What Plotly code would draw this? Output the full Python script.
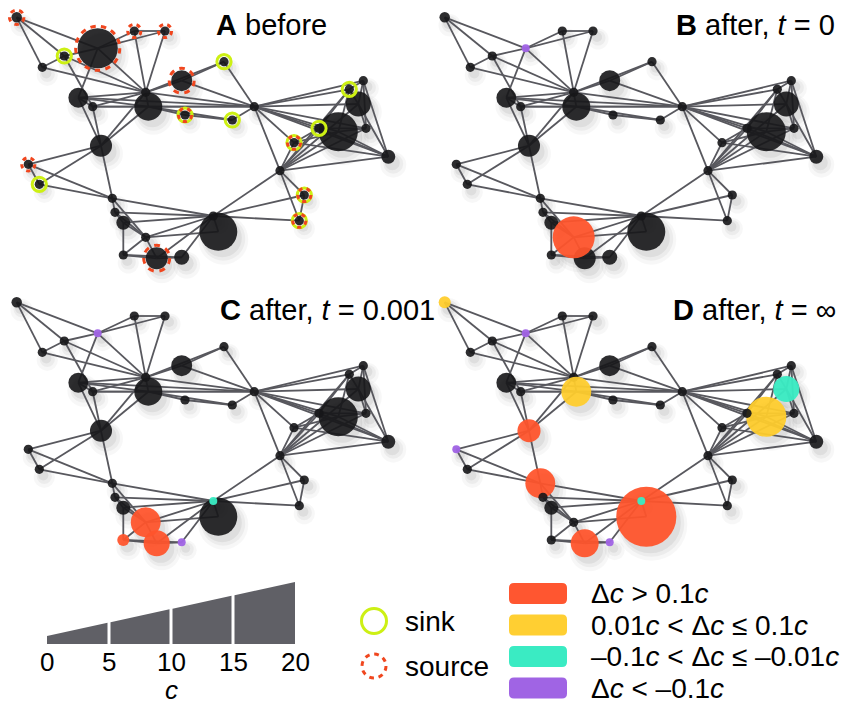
import plotly.graph_objects as go

# ---------------- data ----------------
# network layout (panel-local pixel coordinates)
node_x = [16.7, 97.7, 134.3, 165.0, 64.3, 42.3, 181.7, 224.0, 145.7, 78.3,
          92.7, 148.3, 185.0, 232.3, 254.3, 363.3, 349.3, 358.3, 338.3, 319.0,
          366.0, 294.0, 388.3, 101.0, 28.3, 39.3, 280.0, 304.3, 299.3, 112.3,
          115.0, 123.3, 213.3, 218.3, 145.7, 123.3, 156.7, 181.7]
node_y = [17.3, 48.3, 31.0, 31.0, 56.0, 67.3, 80.7, 61.7, 92.3, 97.7,
          106.7, 106.7, 115.0, 120.0, 106.7, 80.7, 89.3, 104.0, 131.7, 128.3,
          128.3, 142.7, 156.7, 145.7, 164.3, 184.3, 170.7, 195.0, 220.7, 198.3,
          212.3, 222.7, 216.0, 231.7, 237.3, 255.0, 258.3, 257.3]

edges = [(1, 2), (1, 5), (1, 6), (6, 5), (5, 2), (6, 9), (5, 9), (5, 11), (2, 3), (2, 4),
         (3, 4), (3, 9), (4, 9), (2, 9), (2, 10), (10, 11), (10, 12), (10, 15), (10, 24),
         (10, 9), (11, 12), (11, 15), (11, 24), (11, 9), (9, 7), (9, 12), (9, 24), (9, 15),
         (12, 13), (12, 14), (12, 15), (12, 24), (9, 8), (7, 8), (7, 15), (8, 15), (13, 14),
         (14, 15), (15, 16), (15, 17), (15, 18), (15, 19), (15, 20), (15, 21), (15, 23),
         (15, 22), (15, 27), (16, 17), (16, 18), (16, 21), (16, 23), (17, 19), (17, 20),
         (17, 18), (18, 21), (18, 23), (19, 21), (19, 23), (20, 21), (20, 23), (22, 19),
         (22, 20), (22, 23), (27, 17), (27, 18), (27, 19), (27, 20), (27, 21), (27, 23),
         (27, 22), (24, 25), (24, 26), (24, 30), (25, 26), (25, 30), (26, 30), (30, 31),
         (30, 33), (30, 35), (31, 32), (31, 35), (31, 33), (32, 36), (32, 35), (32, 33),
         (35, 36), (35, 37), (35, 33), (35, 34), (36, 37), (36, 38), (37, 38), (37, 33),
         (38, 33), (33, 34), (33, 27), (33, 28), (33, 29), (27, 28), (27, 29), (28, 29)]

# concentration c of every node
c_before = [0.9, 11.9, 0.45, 0.45, 0.45, 0.45, 4.8, 0.45, 0.45, 4.4,
            0.45, 7.4, 0.45, 0.45, 0.45, 0.45, 0.45, 6.3, 11.5, 0.45,
            0.45, 0.45, 2.2, 5.2, 0.45, 0.45, 0.45, 0.45, 0.45, 0.45,
            0.45, 2.2, 0.45, 11.1, 0.45, 0.45, 5.2, 2.6]
c_t0 = list(c_before)
c_t0[1] = 0.0
c_t0[34] = 12.6
c_t001 = list(c_t0)
c_t001[34] = 8.1
c_t001[36] = 6.7
c_t001[35] = 1.5
c_t001[37] = 0.0
c_t001[32] = 0.0
c_inf = list(c_t0)
c_inf[0] = 1.5
c_inf[11] = 8.1
c_inf[17] = 6.7
c_inf[18] = 11.9
c_inf[23] = 5.6
c_inf[24] = 0.0
c_inf[29] = 8.1
c_inf[33] = 19.3
c_inf[34] = 0.45
c_inf[36] = 7.4
c_inf[37] = 0.0
c_inf[32] = 0.0

# change class: k none, r >0.1c, y 0.01..0.1, t -0.1..-0.01, p < -0.1
cls_before = ["k"] * 38
cls_t0 = ["k"] * 38
cls_t0[1] = "p"
cls_t0[34] = "r"
cls_t001 = list(cls_t0)
cls_t001[36] = "r"
cls_t001[35] = "r"
cls_t001[37] = "p"
cls_t001[32] = "t"
cls_inf = ["k"] * 38
for i, k in [(1, "y"), (2, "p"), (12, "y"), (18, "t"), (19, "y"), (24, "r"), (25, "p"),
             (30, "r"), (33, "t"), (34, "r"), (37, "r"), (38, "p")]:
    cls_inf[i - 1] = k

sinks = [5, 8, 13, 14, 17, 20, 22, 26, 28, 29]
sources = [1, 2, 3, 4, 7, 13, 22, 25, 28, 29, 37]

# stacking order of the nodes (last is on top)
draw_order = [i for i in range(38) if i not in (32, 34)]
draw_order.insert(draw_order.index(36) + 1, 34)
draw_order.append(32)

panel_titles = ["<b>A</b> before", "<b>B</b> after, <i>t</i> = 0",
                "<b>C</b> after, <i>t</i> = 0.001", "<b>D</b> after, <i>t</i> = ∞"]

scale_ticks = [0, 5, 10, 15, 20]
legend_labels = ["Δ<i>c</i> &gt; 0.1<i>c</i>",
                 "0.01<i>c</i> &lt; Δ<i>c</i> ≤ 0.1<i>c</i>",
                 "–0.1<i>c</i> &lt; Δ<i>c</i> ≤ –0.01<i>c</i>",
                 "Δ<i>c</i> &lt; –0.1<i>c</i>"]

# ---------------- styles ----------------
FONT = "Liberation Sans, Arial, Helvetica, sans-serif"
FS = 29
COL = {"k": "rgba(22,22,24,0.9)", "r": "rgba(255,84,44,0.94)", "y": "rgba(255,205,45,0.94)",
       "t": "rgba(58,235,195,0.96)", "p": "rgba(160,100,228,0.96)"}
LEG_COL = ["rgb(255,86,48)", "rgb(255,207,50)", "rgb(58,235,195)", "rgb(160,100,228)"]
EDGE_COL = "rgb(88,88,94)"
SINK_COL = "rgb(205,240,20)"
SRC_COL = "rgb(240,70,30)"

panels = [((0, 0), c_before, cls_before, 329, 25),
          ((428, 0), c_t0, cls_t0, 837, 25),
          ((0, 285), c_t001, cls_t001, 437, 310),
          ((428, 285), c_inf, cls_inf, 838, 310)]


def diam(c):
    return 8 + 2.7 * c


fig = go.Figure()
shapes = []
annotations = []

for pi, ((ox, oy), cvals, cls, tx, ty) in enumerate(panels):
    X = [x + ox for x in node_x]
    Y = [y + oy for y in node_y]
    D = [diam(c) for c in cvals]
    # soft shadows
    for extra, op, dx, dy in [(12, 0.03, 5, 8), (6, 0.045, 5, 7), (1, 0.06, 4, 6)]:
        fig.add_trace(go.Scatter(x=[x + dx for x in X], y=[y + dy for y in Y], mode="markers",
                                 marker=dict(size=[d + extra for d in D], color=f"rgba(0,0,0,{op})",
                                             opacity=1, line=dict(width=0)),
                                 hoverinfo="skip", showlegend=False))
    ex, ey = [], []
    for a, b in edges:
        ex += [X[a - 1], X[b - 1], None]
        ey += [Y[a - 1], Y[b - 1], None]
    fig.add_trace(go.Scatter(x=ex, y=ey, mode="lines", line=dict(color=EDGE_COL, width=1.8),
                             hoverinfo="skip", showlegend=False))
    fig.add_trace(go.Scatter(x=[X[i] for i in draw_order], y=[Y[i] for i in draw_order],
                             mode="markers",
                             marker=dict(size=[D[i] for i in draw_order],
                                         color=[COL[cls[i]] for i in draw_order], opacity=1,
                                         line=dict(width=0)),
                             hoverinfo="skip", showlegend=False))
    if pi == 0:
        sx = [X[i - 1] for i in sinks]
        sy = [Y[i - 1] for i in sinks]
        fig.add_trace(go.Scatter(x=sx, y=sy, mode="markers",
                                 marker=dict(size=[D[i - 1] + 5 for i in sinks],
                                             color="rgba(0,0,0,0)", opacity=1,
                                             line=dict(color=SINK_COL, width=3)),
                                 hoverinfo="skip", showlegend=False))
        for i in sources:
            r = D[i - 1] / 2 + 2
            circ = 2 * 3.14159 * r
            n = max(5, round(circ / 11))
            seg = circ / (2 * n)
            shapes.append(dict(type="circle", xref="x", yref="y",
                               x0=X[i - 1] - r, x1=X[i - 1] + r, y0=Y[i - 1] - r, y1=Y[i - 1] + r,
                               line=dict(color=SRC_COL, width=3, dash=f"{seg:.2f}px,{seg:.2f}px")))
    annotations.append(dict(x=tx, y=ty, xref="x", yref="y", text=panel_titles[pi],
                            showarrow=False, xanchor="right", yanchor="middle",
                            font=dict(family=FONT, size=FS, color="black")))

# ---------------- size legend wedge ----------------
def wx(c):
    return 47 + 12.4 * c


base_y = 644
for k in range(len(scale_ticks) - 1):
    c0, c1 = scale_ticks[k], scale_ticks[k + 1]
    x0 = wx(c0) + (1.5 if k > 0 else 0)
    x1 = wx(c1) - (1.5 if k < len(scale_ticks) - 2 else 0)
    h0 = diam(c0 + (x0 - wx(c0)) / 12.4)
    h1 = diam(c1 - (wx(c1) - x1) / 12.4)
    fig.add_trace(go.Scatter(x=[x0, x1, x1, x0, x0], y=[base_y, base_y, base_y - h1, base_y - h0, base_y],
                             mode="lines", fill="toself", fillcolor="rgb(96,96,102)",
                             line=dict(width=0, color="rgb(96,96,102)"),
                             hoverinfo="skip", showlegend=False))
for c in scale_ticks:
    annotations.append(dict(x=wx(c), y=662, xref="x", yref="y", text=str(c), showarrow=False,
                            xanchor="center", yanchor="middle",
                            font=dict(family=FONT, size=26, color="black")))
annotations.append(dict(x=wx(10), y=690, xref="x", yref="y", text="<i>c</i>", showarrow=False,
                        xanchor="center", yanchor="middle",
                        font=dict(family=FONT, size=26, color="black")))

# sink / source legend
fig.add_trace(go.Scatter(x=[374], y=[621], mode="markers",
                         marker=dict(size=25, color="rgba(0,0,0,0)", opacity=1,
                                     line=dict(color=SINK_COL, width=3)),
                         hoverinfo="skip", showlegend=False))
shapes.append(dict(type="circle", xref="x", yref="y", x0=362, x1=386, y0=654, y1=678,
                   line=dict(color=SRC_COL, width=3, dash="4.7px,4.7px")))
annotations.append(dict(x=403, y=621, xref="x", yref="y", text="sink", showarrow=False,
                        xanchor="left", yanchor="middle", font=dict(family=FONT, size=28, color="black")))
annotations.append(dict(x=403, y=666, xref="x", yref="y", text="source", showarrow=False,
                        xanchor="left", yanchor="middle", font=dict(family=FONT, size=28, color="black")))

# colour legend
for k, (lab, col) in enumerate(zip(legend_labels, LEG_COL)):
    y0 = 583 + 31.5 * k
    y1 = y0 + 21
    x0, x1, rr = 509, 567, 5
    path = (f"M{x0 + rr},{y0} L{x1 - rr},{y0} Q{x1},{y0} {x1},{y0 + rr} L{x1},{y1 - rr} "
            f"Q{x1},{y1} {x1 - rr},{y1} L{x0 + rr},{y1} Q{x0},{y1} {x0},{y1 - rr} "
            f"L{x0},{y0 + rr} Q{x0},{y0} {x0 + rr},{y0} Z")
    shapes.append(dict(type="path", xref="x", yref="y", path=path, fillcolor=col,
                       line=dict(width=0)))
    annotations.append(dict(x=589, y=(y0 + y1) / 2, xref="x", yref="y", text=lab, showarrow=False,
                            xanchor="left", yanchor="middle",
                            font=dict(family=FONT, size=28, color="black")))

# the page body adds an 8px margin, so the canvas is 844x698 and shows pixels 8..852 / 8..706
fig.update_layout(width=844, height=698, margin=dict(l=0, r=0, t=0, b=0),
                  paper_bgcolor="white", plot_bgcolor="white",
                  xaxis=dict(range=[8, 852], visible=False, fixedrange=True),
                  yaxis=dict(range=[706, 8], visible=False, fixedrange=True),
                  shapes=shapes, annotations=annotations, showlegend=False)
fig.write_html("out.html", config={"displayModeBar": False})
